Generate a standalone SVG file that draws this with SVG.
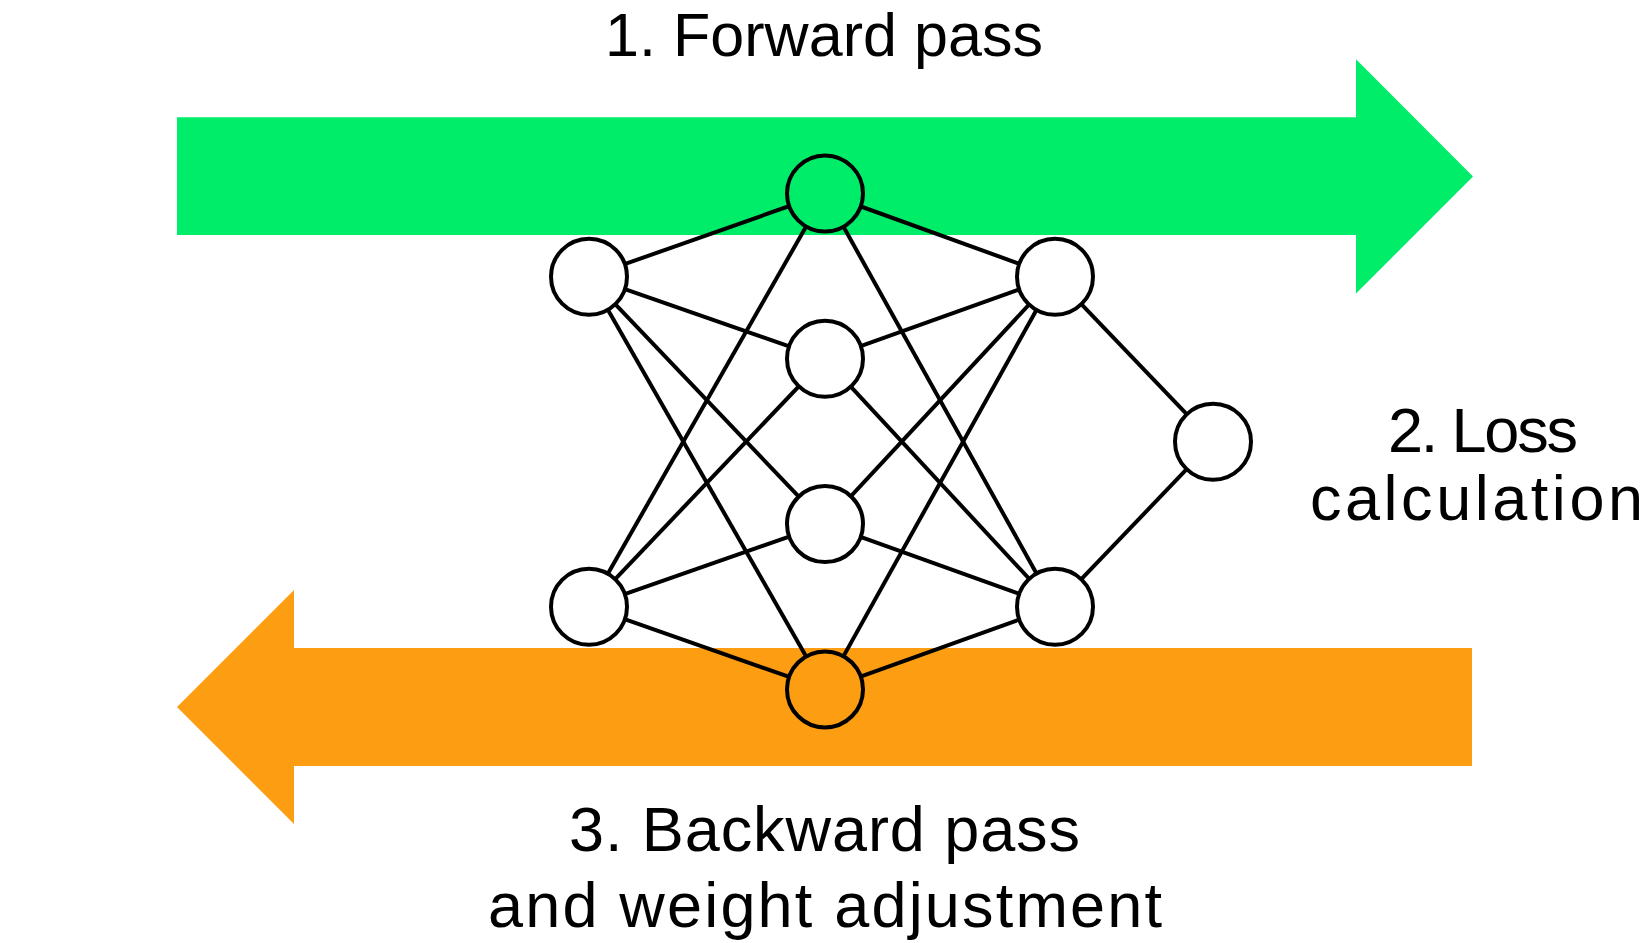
<svg xmlns="http://www.w3.org/2000/svg" width="1650" height="943" viewBox="0 0 1650 943">
  <style>
    .lbl { font-family: "Liberation Sans", Arial, sans-serif; font-size: 63px; fill: #000; text-anchor: middle; }
    .edge { stroke: #000; stroke-width: 4; fill: none; }
    .node { stroke: #000; stroke-width: 4; fill: #fff; }
  </style>
  <rect x="0" y="0" width="1650" height="943" fill="#fff"/>
  <g id="forward-arrow">
    <polygon points="177,117.3 1356,117.3 1356,59.3 1473,176.5 1356,293.5 1356,235 177,235" fill="#00ED69"/>
    <text class="lbl" x="824" y="56" style="font-size:61px" textLength="438" lengthAdjust="spacing">1. Forward pass</text>
  </g>
  <g id="backward-arrow">
    <polygon points="1472,648 294,648 294,590 177,707 294,824 294,766 1472,766" fill="#FD9E12"/>
    <text class="lbl" x="824.5" y="851" textLength="511" lengthAdjust="spacing">3. Backward pass</text>
    <text class="lbl" x="825" y="927" textLength="674" lengthAdjust="spacing">and weight adjustment</text>
  </g>
  <g id="loss-label">
    <text class="lbl" x="1483" y="452" textLength="190" lengthAdjust="spacing">2. Loss</text>
    <text class="lbl" x="1476.5" y="520" textLength="333" lengthAdjust="spacing">calculation</text>
  </g>
  <g id="connectors">
    <line class="edge" x1="589" y1="276.7" x2="825" y2="193.5"/>
    <line class="edge" x1="589" y1="276.7" x2="825" y2="358.8"/>
    <line class="edge" x1="589" y1="276.7" x2="825" y2="524.1"/>
    <line class="edge" x1="589" y1="276.7" x2="825" y2="689.4"/>
    <line class="edge" x1="589" y1="606.7" x2="825" y2="193.5"/>
    <line class="edge" x1="589" y1="606.7" x2="825" y2="358.8"/>
    <line class="edge" x1="589" y1="606.7" x2="825" y2="524.1"/>
    <line class="edge" x1="589" y1="606.7" x2="825" y2="689.4"/>
    <line class="edge" x1="825" y1="193.5" x2="1055" y2="276.7"/>
    <line class="edge" x1="825" y1="358.8" x2="1055" y2="276.7"/>
    <line class="edge" x1="825" y1="524.1" x2="1055" y2="276.7"/>
    <line class="edge" x1="825" y1="689.4" x2="1055" y2="276.7"/>
    <line class="edge" x1="825" y1="193.5" x2="1055" y2="606.7"/>
    <line class="edge" x1="825" y1="358.8" x2="1055" y2="606.7"/>
    <line class="edge" x1="825" y1="524.1" x2="1055" y2="606.7"/>
    <line class="edge" x1="825" y1="689.4" x2="1055" y2="606.7"/>
    <line class="edge" x1="1055" y1="276.7" x2="1213" y2="441.7"/>
    <line class="edge" x1="1055" y1="606.7" x2="1213" y2="441.7"/>
  </g>
  <g id="in1"><circle class="node" cx="589" cy="276.7" r="38"/></g>
  <g id="in2"><circle class="node" cx="589" cy="606.7" r="38"/></g>
  <g id="h1"><circle class="node" cx="825" cy="193.5" r="38" style="fill:#00ED69"/></g>
  <g id="h2"><circle class="node" cx="825" cy="358.8" r="38"/></g>
  <g id="h3"><circle class="node" cx="825" cy="524.1" r="38"/></g>
  <g id="h4"><circle class="node" cx="825" cy="689.4" r="38" style="fill:#FD9E12"/></g>
  <g id="r1"><circle class="node" cx="1055" cy="276.7" r="38"/></g>
  <g id="r2"><circle class="node" cx="1055" cy="606.7" r="38"/></g>
  <g id="out"><circle class="node" cx="1213" cy="441.7" r="38"/></g>
</svg>
